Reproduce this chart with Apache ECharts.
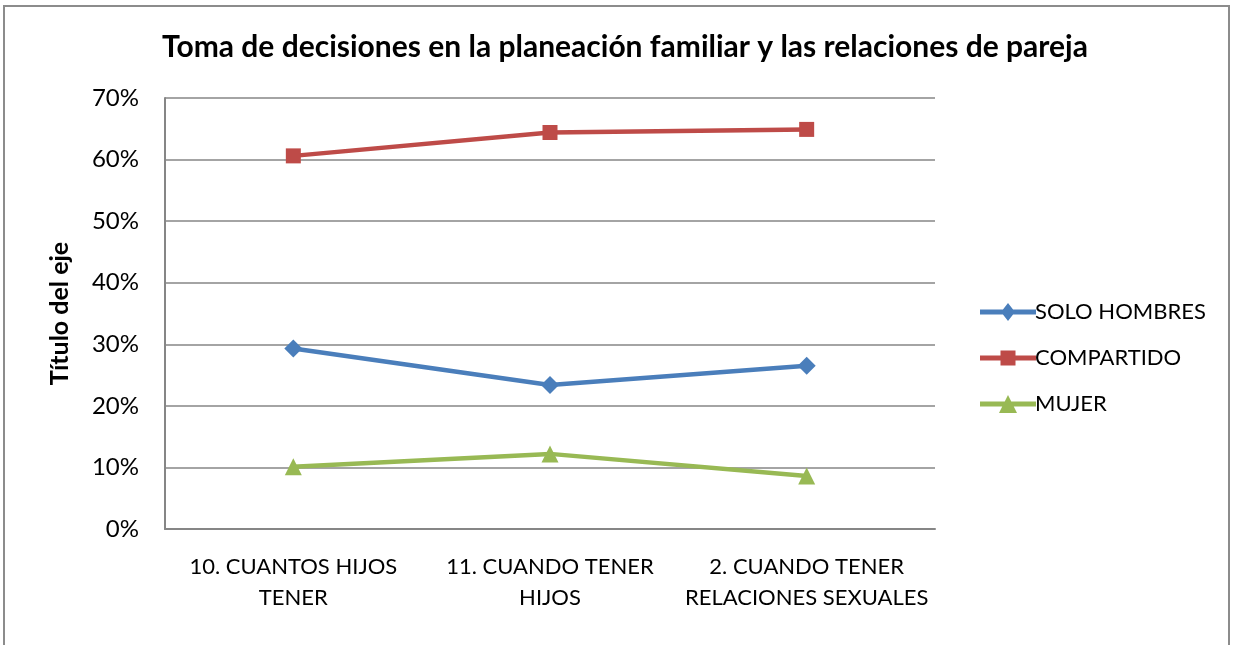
<!DOCTYPE html>
<html>
<head>
<meta charset="utf-8">
<script src="https://cdn.jsdelivr.net/npm/echarts@6/dist/echarts.min.js"></script>
<style>
  html, body { margin: 0; padding: 0; background: #fff; }
  #frame { position: absolute; left: 3px; top: 5px; width: 1227px; height: 700px; border: 2px solid #8c8c8c; box-sizing: border-box; }
  #chart { position: absolute; left: 0; top: 0; width: 1239px; height: 645px; }
</style>
</head>
<body>
<div id="frame"></div>
<div id="chart"></div>
<script>
const categories = ["10. CUANTOS HIJOS\nTENER", "11. CUANDO TENER\nHIJOS", "2. CUANDO TENER\nRELACIONES SEXUALES"];
const soloHombres = [29.3, 23.4, 26.5];
const compartido = [60.6, 64.4, 64.9];
const mujer = [10.1, 12.2, 8.6];
const seriesNames = ["SOLO HOMBRES", "COMPARTIDO", "MUJER"];

const font = "Lato, 'Open Sans', sans-serif";
const chart = echarts.init(document.querySelector("#chart"));

// legend icons: thick line with the series marker in the middle (56 x 18 box)
const bar = "M0 6.5 H56 V11.5 H0 Z ";
const legendIcons = [
  "path://" + bar + "M28 0 L35 9 L28 18 L21 9 Z",
  "path://" + bar + "M20.5 1.5 H35.5 V16.5 H20.5 Z",
  "path://" + bar + "M28 0 L37 18 L19 18 Z",
];

function line(name, data, color, symbol, size) {
  return {
    name, type: "line", data, symbol, symbolSize: size,
    lineStyle: { color, width: 4.5 },
    itemStyle: { color },
    animation: false,
  };
}

chart.setOption({
  backgroundColor: "transparent",
  title: {
    text: "Toma de decisiones en la planeación familiar y las relaciones de pareja",
    left: 620, top: 27, textAlign: "center",
    textStyle: { fontFamily: font, fontSize: 30, fontWeight: "bold", color: "#000" },
  },
  legend: {
    orient: "vertical", left: 975, top: 296, itemGap: 24,
    itemWidth: 56, itemHeight: 18,
    textStyle: { fontFamily: font, fontSize: 22, color: "#000", padding: [0, 0, 0, -6] },
    data: seriesNames.map((name, i) => ({ name, icon: legendIcons[i] })),
  },
  grid: { left: 165, top: 98, width: 770, height: 431 },
  xAxis: {
    type: "category", data: categories, boundaryGap: true,
    axisLine: { lineStyle: { color: "#868686", width: 2 } },
    axisTick: { show: false },
    axisLabel: { fontFamily: font, fontSize: 22, color: "#000", margin: 22, lineHeight: 31, interval: 0 },
  },
  yAxis: {
    type: "value", min: 0, max: 70, interval: 10,
    name: "Título del eje", nameLocation: "middle", nameGap: 93, nameRotate: 90,
    nameTextStyle: { fontFamily: font, fontSize: 25, fontWeight: "bold", color: "#000" },
    axisLine: { show: true, lineStyle: { color: "#868686", width: 2 } },
    axisTick: { show: false },
    axisLabel: { fontFamily: font, fontSize: 24, color: "#000", margin: 26, formatter: "{value}%" },
    splitLine: { lineStyle: { color: "#868686", width: 1.5 } },
  },
  series: [
    line(seriesNames[0], soloHombres, "#4A7EBB", "diamond", 18),
    line(seriesNames[1], compartido, "#BE4B48", "rect", 15),
    line(seriesNames[2], mujer, "#98B954", "triangle", 17),
  ],
});
</script>
</body>
</html>
